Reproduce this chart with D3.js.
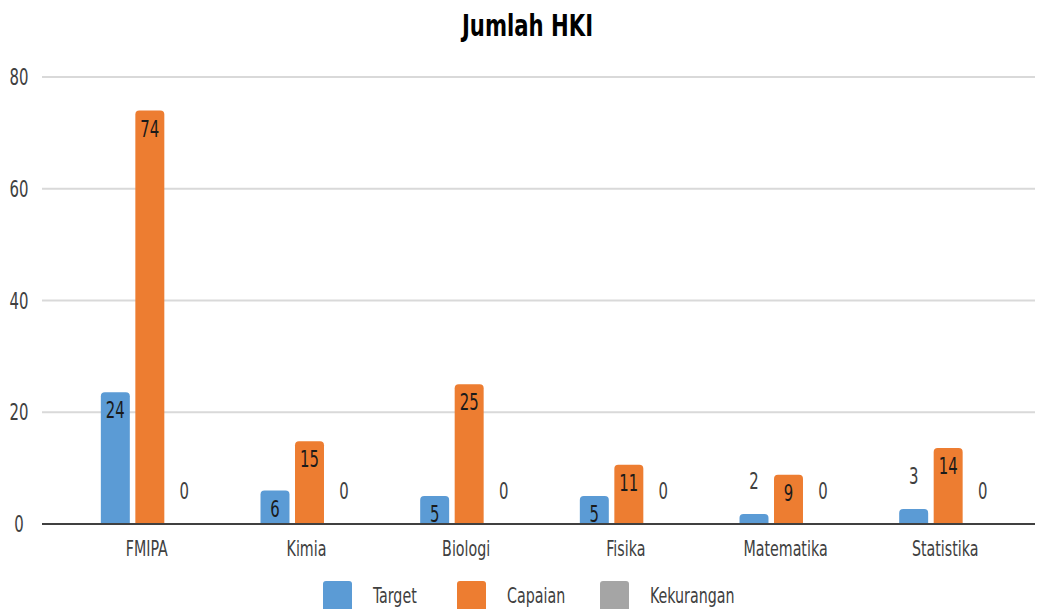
<!DOCTYPE html>
<html>
<head>
<meta charset="utf-8">
<script src="https://cdn.jsdelivr.net/npm/d3@7"></script>
<style>
  body { margin: 0; background: #fff; }
  svg text { font-family: "DejaVu Sans Condensed", "Liberation Sans Narrow", "Roboto", sans-serif; font-stretch: condensed; }
</style>
</head>
<body>
<svg id="chart" width="1047" height="609"></svg>
<script>
// data
const categories = ['FMIPA', 'Kimia', 'Biologi', 'Fisika', 'Matematika', 'Statistika']
const seriesNames = ['Target', 'Capaian', 'Kekurangan']
const target = [23.6, 6, 5, 5, 1.8, 2.7]
const capaian = [74, 14.8, 25, 10.6, 8.8, 13.6]
const kekurangan = [0, 0, 0, 0, 0, 0]
const yTicks = [0, 20, 40, 60, 80]
const colors = ['#5b9bd5', '#ed7d31', '#a5a5a5']

const svg = d3.select('#chart')
const width = +svg.attr('width')
const SX = 0.72  // squeeze text horizontally, the original uses a very narrow face

const x = d3.scaleBand().domain(categories).range([70, 1028])
const xs = d3.scaleBand().domain(seriesNames).range([0, x.bandwidth()]).paddingInner(0.16).paddingOuter(0.894)
const y = d3.scaleLinear().domain([0, 80]).range([524, 77])

const place = (px, py, sx) => `translate(${px},${py}) scale(${sx || SX},1)`

// title
svg.append('text')
  .attr('transform', place(width / 2 + 4, 36, 0.76))
  .attr('text-anchor', 'middle')
  .style('font-size', '31px').style('font-weight', 'bold')
  .attr('fill', '#000')
  .text('Jumlah HKI')

// grid
svg.append('g').selectAll('line')
  .data(yTicks.filter(d => d > 0))
  .join('line')
  .attr('x1', 42).attr('x2', 1035)
  .attr('y1', d => y(d)).attr('y2', d => y(d))
  .attr('stroke', '#d9d9d9').attr('stroke-width', 2)

// y tick labels
svg.append('g').selectAll('text')
  .data(yTicks)
  .join('text')
  .attr('transform', d => place(19, y(d)))
  .attr('dy', '0.35em')
  .attr('text-anchor', 'middle')
  .style('font-size', '23px').attr('fill', '#404040')
  .text(d => d)

const rows = categories.map((c, i) => ({ cat: c, values: [target[i], capaian[i], kekurangan[i]] }))

function barPath(x0, w, top, bottom, r) {
  const h = bottom - top
  if (h <= 0) return ''
  r = Math.min(r, h, w / 2)
  return `M${x0},${bottom}V${top + r}Q${x0},${top} ${x0 + r},${top}H${x0 + w - r}Q${x0 + w},${top} ${x0 + w},${top + r}V${bottom}Z`
}

const groups = svg.append('g').selectAll('g')
  .data(rows)
  .join('g')
  .attr('transform', d => `translate(${x(d.cat)},0)`)

groups.selectAll('path')
  .data(d => d.values.map((v, k) => ({ v, k })))
  .join('path')
  .attr('d', d => barPath(xs(seriesNames[d.k]), xs.bandwidth(), y(d.v), y(0), 4))
  .attr('fill', d => colors[d.k])

const inside = d => y(0) - y(d.v) > 20
groups.selectAll('text')
  .data(d => d.values.map((v, k) => ({ v, k })))
  .join('text')
  .attr('transform', d => place(xs(seriesNames[d.k]) + xs.bandwidth() / 2, inside(d) ? y(d.v) + 18 : y(d.v) - 33))
  .attr('dy', '0.35em')
  .attr('text-anchor', 'middle')
  .style('font-size', '23px')
  .attr('fill', d => inside(d) ? '#1a1a1a' : '#404040')
  .text(d => Math.round(d.v))

// x axis line
svg.append('line')
  .attr('x1', 42).attr('x2', 1035)
  .attr('y1', y(0)).attr('y2', y(0))
  .attr('stroke', '#404040').attr('stroke-width', 2)

// category labels
svg.append('g').selectAll('text')
  .data(categories)
  .join('text')
  .attr('transform', d => place(x(d) + x.bandwidth() / 2 - 3, 548))
  .attr('dy', '0.35em')
  .attr('text-anchor', 'middle')
  .style('font-size', '22px').attr('fill', '#404040')
  .text(d => d)

// legend
const legendX = [323, 457, 600]
const legend = svg.append('g').selectAll('g')
  .data(seriesNames)
  .join('g')
  .attr('transform', (d, i) => `translate(${legendX[i]},581)`)
legend.append('rect')
  .attr('width', 29).attr('height', 32).attr('rx', 3)
  .attr('fill', (d, i) => colors[i])
legend.append('text')
  .attr('transform', place(50, 14))
  .attr('dy', '0.35em')
  .style('font-size', '22px').attr('fill', '#404040')
  .text(d => d)
</script>
</body>
</html>
